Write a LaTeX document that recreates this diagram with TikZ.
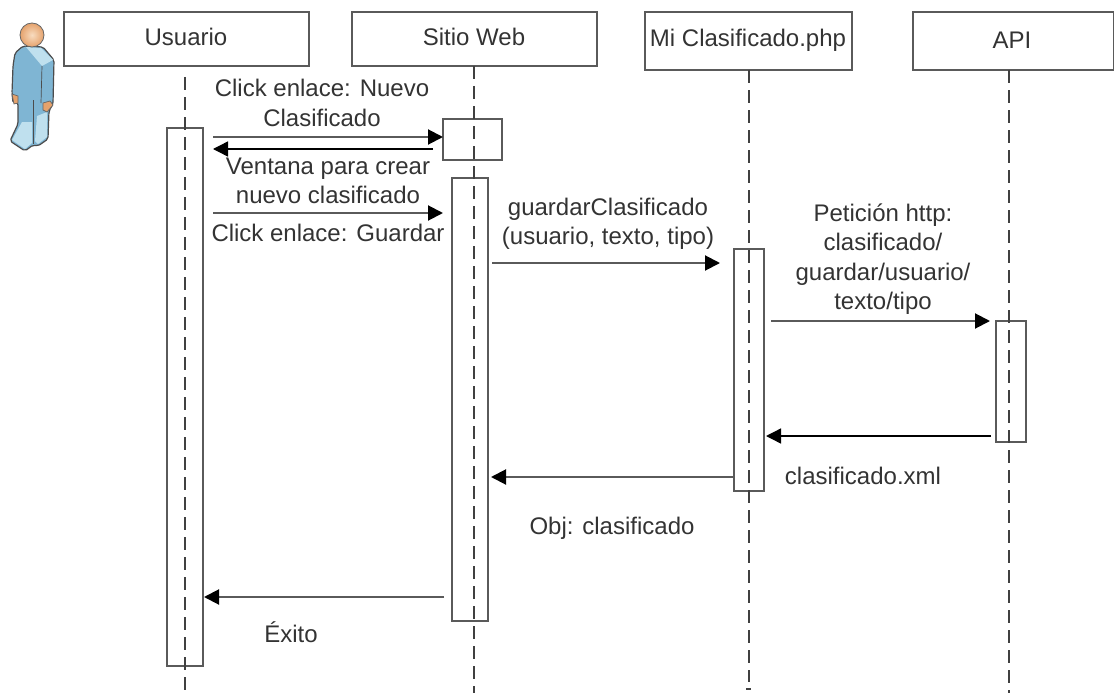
\documentclass[tikz,border=0pt]{standalone}
\usepackage{fontspec}
\setmainfont{Liberation Sans}
\usetikzlibrary{arrows.meta}
\definecolor{edgegray}{HTML}{5A5A5A}
\definecolor{textgray}{HTML}{333333}
\definecolor{bodyblue}{HTML}{7FB5D3}
\definecolor{lightblue}{HTML}{BFE0EE}
\definecolor{skin}{HTML}{E5A26C}
\definecolor{skinlight}{HTML}{F8DCC0}
\tikzstyle{headnode} = [draw=edgegray, line width=1.4pt, rectangle, outer sep=0pt, inner sep=0pt]
\tikzstyle{barnode} = [draw=edgegray, line width=1.4pt, rectangle, outer sep=0pt, inner sep=0pt]
\tikzstyle{msgtext} = [text=textgray, align=center, inner sep=0pt, font=\fontsize{24}{29.5}\selectfont]
\tikzstyle{lifeline} = [draw=black!75, line width=1.3pt, dash pattern=on 13pt off 7pt]
\tikzstyle{msg} = [edgegray, line width=2pt, -{Triangle[length=15pt,width=15pt,color=black]}]

\begin{document}
\begin{tikzpicture}[x=1pt, y=-1pt]
  \useasboundingbox (0,0) rectangle (1114,693);

  % actor
  \filldraw[draw=black!70, line width=1.2pt, fill=bodyblue, line join=round, rounded corners=2pt] (23,46) -- (15,53) -- (13,66) -- (12,93) -- (13,103) -- (18,103) -- (18,124) -- (10,141) -- (25,151) -- (33,145) -- (38,146) -- (48,139) -- (49,111) -- (53,104) -- (54,60) -- (43,47) -- cycle;
  \fill[lightblue] (26,47) -- (41,48) -- (53,60) -- (42,66) -- cycle;
  \fill[lightblue] (22,122) -- (32,122) -- (32,143) -- (25,149) -- (12,140) -- cycle;
  \fill[lightblue] (37,116) -- (47,112) -- (47,137) -- (38,144) -- (35,141) -- cycle;
  \draw[black!70, line width=.7pt] (42,66) -- (41,103);
  \draw[black!70, line width=.7pt] (33,100) -- (33,144);
  \filldraw[draw=black!60, line width=.7pt, fill=skin] (12,94) -- (18,96) -- (18,103) -- (14,104) -- cycle;
  \filldraw[draw=black!60, line width=.7pt, fill=skin] (43,103) -- (50,101) -- (53,105) -- (47,112) -- (43,110) -- cycle;
  \shade[inner color=skinlight, outer color=skin, draw=black!60, line width=.8pt] (32,35) circle (12pt);

  % heads
  \node[headnode, minimum width=245pt, minimum height=54pt] (usuario) at (186.5,39) {};
  \node[headnode, minimum width=245pt, minimum height=54pt] (sitio) at (474.5,39) {};
  \node[headnode, minimum width=207pt, minimum height=58pt] (mi) at (748.5,41) {};
  \node[headnode, minimum width=201pt, minimum height=58pt] (api) at (1013.5,41) {};
  \node[msgtext] (usuarioText) at (186,37) {Usuario};
  \node[msgtext] (sitioText) at (474,37) {Sitio Web};
  \node[msgtext] (miText) at (748,40) {Mi Clasificado.php};
  \node[msgtext] (apiText) at (1012,40) {API};

  % activation bars
  \node[barnode, minimum width=36pt, minimum height=538pt] (usuarioBar) at (185,397) {};
  \node[barnode, minimum width=59pt, minimum height=41pt] (sitioBox) at (472.5,139.5) {};
  \node[barnode, minimum width=36pt, minimum height=443pt] (sitioBar) at (470,399.5) {};
  \node[barnode, minimum width=30pt, minimum height=242pt] (miBar) at (749,370) {};
  \node[barnode, minimum width=30pt, minimum height=121pt] (apiBar) at (1011,381.5) {};

  % lifelines
  \coordinate (usuarioTop) at (185,77);
  \coordinate (usuarioEnd) at (185,693);
  \coordinate (sitioEnd) at (474,693);
  \coordinate (miEnd) at (749,682);
  \coordinate (apiEnd) at (1009,693);
  \coordinate (miMarkA) at (746,689);
  \coordinate (miMarkB) at (751,689);
  \draw[lifeline] (usuarioTop) -- (usuarioEnd);
  \draw[lifeline] (sitio.south -| sitioEnd) -- (sitioEnd);
  \draw[lifeline] (mi.south -| miEnd) -- (miEnd);
  \draw[lifeline] (api.south -| apiEnd) -- (apiEnd);
  \draw[black!75, line width=1.3pt] (miMarkA) -- (miMarkB);

  % messages
  \coordinate (clickA) at (213,137);
  \coordinate (clickB) at (443,137);
  \coordinate (ventanaA) at (433,149);
  \coordinate (ventanaB) at (213,149);
  \coordinate (guardarA) at (213,213);
  \coordinate (guardarB) at (443,213);
  \coordinate (metodoA) at (492,263);
  \coordinate (metodoB) at (720,263);
  \coordinate (peticionA) at (771,321);
  \coordinate (peticionB) at (990,321);
  \coordinate (xmlA) at (991,436);
  \coordinate (xmlB) at (766,436);
  \coordinate (objA) at (733,477);
  \coordinate (objB) at (491,477);
  \coordinate (exitoA) at (444,597);
  \coordinate (exitoB) at (204,597);
  \draw[msg] (clickA) -- (clickB);
  \draw[msg, black, line width=1.4pt] (ventanaA) -- (ventanaB);
  \draw[msg] (guardarA) -- (guardarB);
  \draw[msg] (metodoA) -- (metodoB);
  \draw[msg] (peticionA) -- (peticionB);
  \draw[msg, black, line width=1.4pt] (xmlA) -- (xmlB);
  \draw[msg] (objA) -- (objB);
  \draw[msg] (exitoA) -- (exitoB);

  % labels
  \node[msgtext] (clickText) at (322,103) {Click enlace: Nuevo\\Clasificado};
  \node[msgtext] (ventanaText) at (328,181) {Ventana para crear\\nuevo clasificado};
  \node[msgtext] (guardarText) at (328,233) {Click enlace: Guardar};
  \node[msgtext] (metodoText) at (608,224) {guardarClasificado\\(usuario, texto, tipo)};
  \node[msgtext] (peticionText) at (883,259) {Petición http:\\clasificado/\\guardar/usuario/\\texto/tipo};
  \node[msgtext] (xmlText) at (863,476) {clasificado.xml};
  \node[msgtext] (objText) at (612,528) {Obj: clasificado};
  \node[msgtext] (exitoText) at (291,632) {Éxito};
\end{tikzpicture}
\end{document}
